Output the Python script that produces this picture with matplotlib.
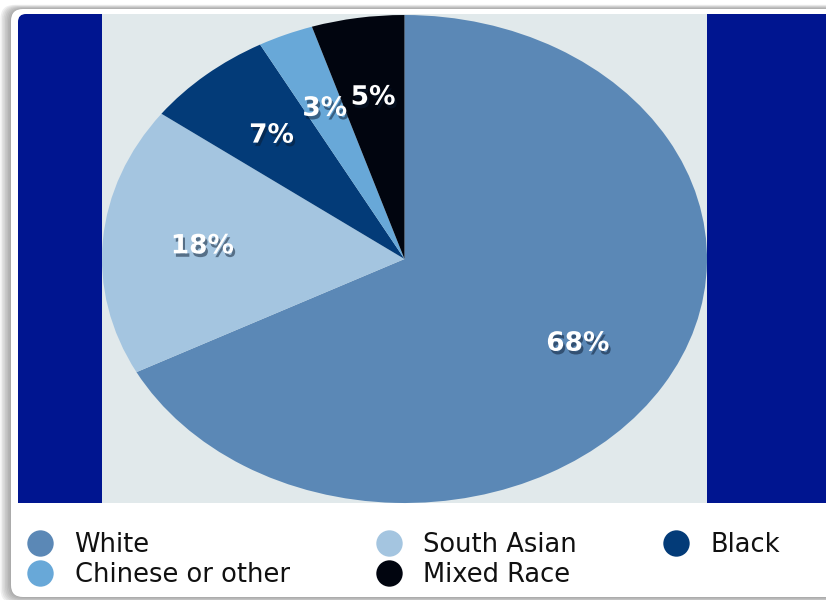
import matplotlib.pyplot as plt
import matplotlib.patheffects as pe
from matplotlib.lines import Line2D
from matplotlib.patches import FancyBboxPatch, Rectangle

# ethnic breakdown, clockwise from the top of the pie
groups = ["White", "South Asian", "Black", "Chinese or other", "Mixed Race"]
shares = [68, 18, 7, 3, 5]
colors = ["#5b88b6", "#a4c5e0", "#033b78", "#68a8d8", "#01050f"]

W, H = 826, 600
fig = plt.figure(figsize=(W / 100, H / 100), dpi=100, facecolor="white")

# card background drawn in pixel coordinates
bg = fig.add_axes([0, 0, 1, 1])
bg.set_xlim(0, W)
bg.set_ylim(H, 0)
bg.axis("off")

# soft drop shadow behind the card, heavier on the left
for i in range(7):
    grow = 1.5 + i * 1.5
    bg.add_patch(FancyBboxPatch((11 - grow, 9 - grow * 0.4), 840, 588 + grow,
                                boxstyle="round,pad=0,rounding_size=14",
                                fc="#5a5a5a", ec="none", alpha=0.09))
bg.add_patch(FancyBboxPatch((11, 9), 840, 588, boxstyle="round,pad=0,rounding_size=12",
                            fc="white", ec="none"))

# chart panel: dark side bars with the light centre strip
bg.add_patch(FancyBboxPatch((18, 14), 830, 505, boxstyle="round,pad=0,rounding_size=8",
                            fc="#001590", ec="none"))
bg.add_patch(Rectangle((18, 503), 820, 20, fc="white", ec="none"))
bg.add_patch(Rectangle((102, 14), 605, 489, fc="#e1e9eb", ec="none"))

# pie stretched to fill the centre strip
ax = fig.add_axes([102 / W, 97 / H, 605 / W, 488 / H])
wedges, texts = ax.pie(
    shares,
    colors=colors,
    labels=[f"{v}%" for v in shares],
    labeldistance=0.67,
    startangle=90,
    counterclock=False,
    wedgeprops={"linewidth": 0},
    textprops={"color": "white", "fontsize": 19, "fontweight": "bold",
               "family": "DejaVu Sans"},
)
for t in texts:
    t.set_ha("center")
    t.set_va("center")
    t.set_path_effects([
        pe.withSimplePatchShadow(offset=(1.5, -2.5), shadow_rgbFace="#0a1a30", alpha=0.5),
    ])
ax.set_aspect("auto")
ax.set_xlim(-1, 1)
ax.set_ylim(-1, 1)
ax.axis("off")

# legend laid out row by row: White, South Asian, Black / Chinese, Mixed
order = [0, 3, 1, 4, 2]
handles = [Line2D([], [], marker="o", linestyle="none", markersize=19,
                  markerfacecolor=colors[i], markeredgewidth=0) for i in order]
fig.legend(handles, [groups[i] for i in order], ncol=3, loc="upper left",
           bbox_to_anchor=(27 / W, 1 - 532 / H), frameon=False,
           prop={"family": "DejaVu Sans", "size": 18.5},
           labelcolor="#111111",
           handlelength=1.0, handletextpad=0.85, columnspacing=3.35,
           labelspacing=0.14, borderpad=0, borderaxespad=0)

fig.savefig("out.png", dpi=100, facecolor="white")
